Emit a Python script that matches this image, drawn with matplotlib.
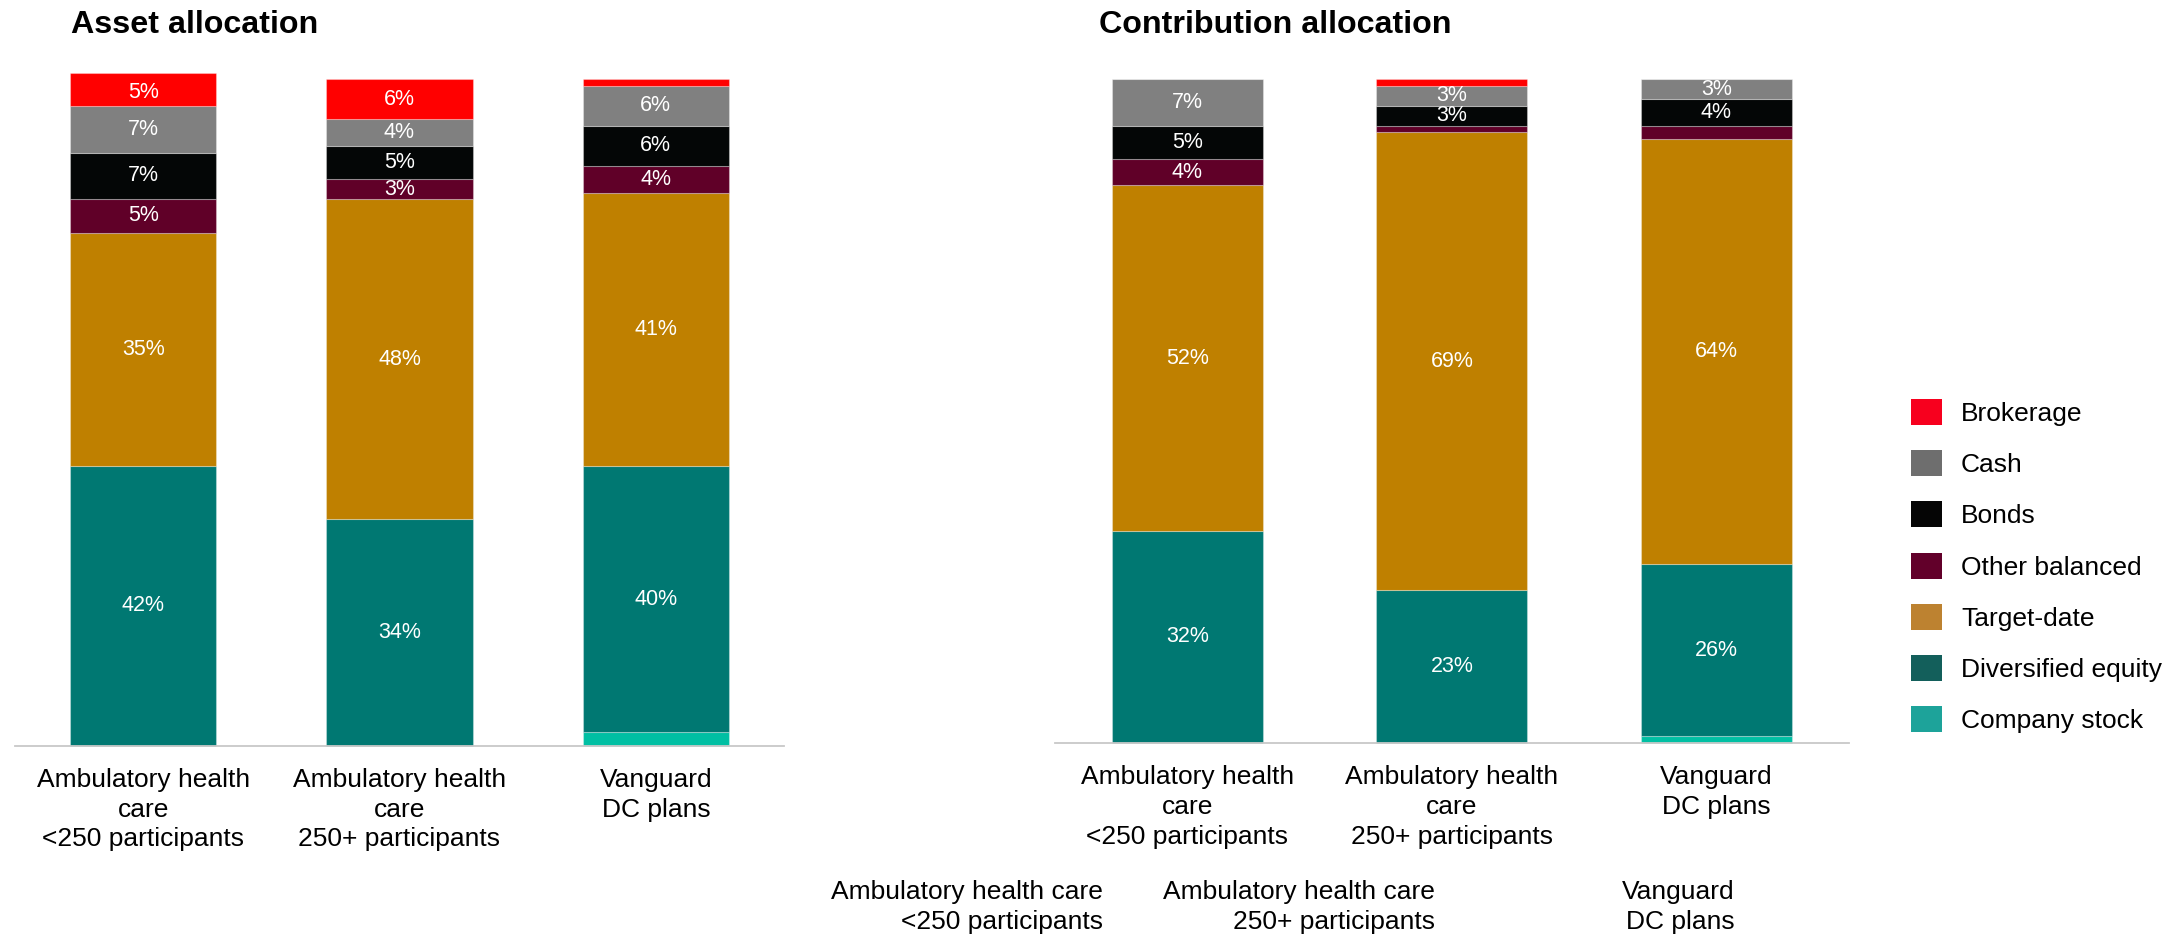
import matplotlib
matplotlib.use("Agg")
import matplotlib.pyplot as plt
from matplotlib.patches import Patch
import numpy as np

plt.rcParams['font.family'] = ['Liberation Sans', 'DejaVu Sans']

# Category labels
group_labels = ["Ambulatory health\ncare\n<250 participants",
                "Ambulatory health\ncare\n250+ participants",
                "Vanguard\nDC plans"]
footer_labels = ["Ambulatory health care\n<250 participants",
                 "Ambulatory health care\n250+ participants",
                 "Vanguard\nDC plans"]

# Stack order, bottom to top
series_names = ["Company stock", "Diversified equity", "Target-date",
                "Other balanced", "Bonds", "Cash", "Brokerage"]

# Asset allocation (%)
asset_company_stock = [0, 0, 2]
asset_diversified_equity = [42, 34, 40]
asset_target_date = [35, 48, 41]
asset_other_balanced = [5, 3, 4]
asset_bonds = [7, 5, 6]
asset_cash = [7, 4, 6]
asset_brokerage = [5, 6, 1]

# Contribution allocation (%)
contrib_company_stock = [0, 0, 1]
contrib_diversified_equity = [32, 23, 26]
contrib_target_date = [52, 69, 64]
contrib_other_balanced = [4, 1, 2]
contrib_bonds = [5, 3, 4]
contrib_cash = [7, 3, 3]
contrib_brokerage = [0, 1, 0]

bar_colors = {
    "Company stock": "#00BFA3",
    "Diversified equity": "#007872",
    "Target-date": "#BF8000",
    "Other balanced": "#600028",
    "Bonds": "#040606",
    "Cash": "#808080",
    "Brokerage": "#FF0000",
}
legend_colors = {
    "Brokerage": "#F7001E",
    "Cash": "#6E6E6E",
    "Bonds": "#050505",
    "Other balanced": "#62002A",
    "Target-date": "#BD8230",
    "Diversified equity": "#135F5B",
    "Company stock": "#1DA39A",
}

asset_series = [asset_company_stock, asset_diversified_equity, asset_target_date,
                asset_other_balanced, asset_bonds, asset_cash, asset_brokerage]
contrib_series = [contrib_company_stock, contrib_diversified_equity, contrib_target_date,
                  contrib_other_balanced, contrib_bonds, contrib_cash, contrib_brokerage]

W, H = 2169, 939
fig = plt.figure(figsize=(W / 100, H / 100), dpi=100)

def px_axes(left, top, right, bottom):
    return fig.add_axes([left / W, (H - bottom) / H, (right - left) / W, (bottom - top) / H])

ax_asset = px_axes(15, 79.3, 784, 745.7)
ax_contrib = px_axes(1055, 79.3, 1848.7, 743)


def draw_stack(ax, series):
    x = np.arange(len(group_labels))
    base = np.zeros(len(group_labels))
    for name, vals in zip(series_names, series):
        vals = np.asarray(vals, dtype=float)
        bars = ax.bar(x, vals, bottom=base, width=0.57, color=bar_colors[name],
                      edgecolor=(1, 1, 1, 0.3), linewidth=0.8, clip_on=False)
        labels = [f"{v:.0f}%" if v >= 3 else "" for v in vals]
        ax.bar_label(bars, labels=labels, label_type="center", color="white",
                     fontsize=15.5)
        base += vals
    ax.set_xlim(-0.5, 2.5)
    ax.set_ylim(0, 100)
    ax.set_yticks([])
    for side in ("top", "right", "left"):
        ax.spines[side].set_visible(False)
    ax.spines["bottom"].set_color("#C8C8C8")
    ax.spines["bottom"].set_linewidth(1.3)
    ax.set_xticks(x)
    ax.set_xticklabels(group_labels, fontsize=19, linespacing=1.3)
    ax.tick_params(axis="x", length=0, pad=16)


draw_stack(ax_asset, asset_series)
draw_stack(ax_contrib, contrib_series)

fig.text(71 / W, (H - 32.7) / H, "Asset allocation", fontsize=23.2,
         fontweight="bold", va="baseline", ha="left")
fig.text(1099 / W, (H - 32.7) / H, "Contribution allocation", fontsize=23.2,
         fontweight="bold", va="baseline", ha="left")

# Secondary category captions along the bottom
for xr, txt in zip([1102.7, 1435, 1735], footer_labels):
    fig.text(xr / W, (H - 880) / H, txt, fontsize=19, ha="right", va="top",
             multialignment="right", linespacing=1.3)

legend_order = ["Brokerage", "Cash", "Bonds", "Other balanced", "Target-date",
                "Diversified equity", "Company stock"]
handles = [Patch(facecolor=legend_colors[n], edgecolor="none", label=n) for n in legend_order]
fig.legend(handles=handles, loc="upper left", bbox_to_anchor=(1911 / W, (H - 399) / H),
           frameon=False, fontsize=19, handlelength=1.17, handleheight=1.14,
           handletextpad=0.72, labelspacing=0.92, borderaxespad=0, borderpad=0)

fig.savefig("out.png", dpi=100)
